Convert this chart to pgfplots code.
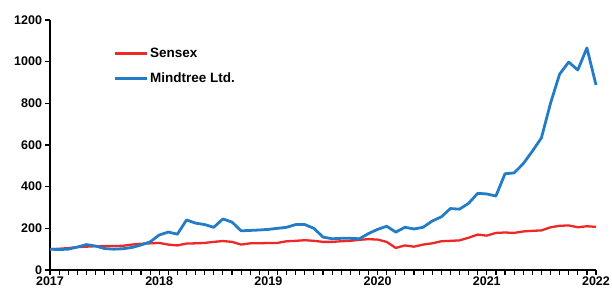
\documentclass[border=0pt]{standalone}
\usepackage{pgfplots}
\pgfplotsset{compat=1.18}
\usepackage{fontspec}
\setmainfont{Liberation Sans}
\definecolor{sred}{RGB}{238,40,38}
\definecolor{mblue}{RGB}{34,124,200}
\begin{document}
\begin{tikzpicture}
\begin{axis}[
  scale only axis,
  width=546bp, height=250bp,
  xmin=0, xmax=60, ymin=0, ymax=1200,
  axis x line*=bottom, axis y line*=left,
  axis line style={black, line width=1.4pt, -},
  xtick={0,12,24,36,48,60},
  xticklabels={2017,2018,2019,2020,2021,2022},
  minor x tick num=11,
  ytick={0,200,400,600,800,1000,1200},
  tick align=outside,
  major tick length=4.5bp, minor tick length=4.5bp,
  tick style={black, line width=1.2pt},
  /pgf/number format/assume math mode=true,
  /pgf/number format/1000 sep={},
  tick label style={font=\bfseries\fontsize{12.5bp}{14bp}\selectfont},
  xticklabel style={yshift=1bp},
  legend style={draw=none, fill=none, at={(0.11,0.905)}, anchor=north west,
    font=\bfseries\fontsize{13.5bp}{15bp}\selectfont, row sep=10bp},
  legend cell align=left,
  legend image code/.code={\draw[#1] (0bp,0bp) -- (32bp,0bp);},
  clip=false,
]
\coordinate (O) at (rel axis cs:0,0);
\addplot[sred, line width=2.3pt, line join=round] coordinates {
(0,100)(1,102)(2,105)(3,110)(4,112)(5,114)(6,115)(7,115)(8,116)(9,122)
(10,126)(11,128)(12,130)(13,122)(14,118)(15,127)(16,128)(17,130)(18,135)(19,139)
(20,135)(21,122)(22,128)(23,128)(24,130)(25,130)(26,138)(27,140)(28,143)(29,140)
(30,135)(31,135)(32,138)(33,140)(34,145)(35,148)(36,146)(37,135)(38,106)(39,118)
(40,112)(41,122)(42,128)(43,138)(44,140)(45,142)(46,155)(47,170)(48,165)(49,178)
(50,180)(51,178)(52,185)(53,188)(54,190)(55,205)(56,212)(57,214)(58,205)(59,210)
(60,207)};
\addlegendentry{Sensex}
\addplot[mblue, line width=2.8pt, line join=round] coordinates {
(0,100)(1,98)(2,100)(3,110)(4,122)(5,115)(6,103)(7,100)(8,102)(9,108)
(10,120)(11,135)(12,168)(13,182)(14,172)(15,240)(16,225)(17,218)(18,205)(19,245)
(20,230)(21,188)(22,190)(23,192)(24,195)(25,200)(26,205)(27,218)(28,218)(29,200)
(30,158)(31,150)(32,152)(33,152)(34,150)(35,175)(36,195)(37,210)(38,182)(39,205)
(40,197)(41,205)(42,235)(43,255)(44,295)(45,292)(46,320)(47,368)(48,365)(49,355)
(50,462)(51,466)(52,510)(53,570)(54,634)(55,800)(56,940)(57,998)(58,960)(59,1066)
(60,888)};
\addlegendentry{Mindtree Ltd.}
\end{axis}
\pgfresetboundingbox
\path (O) ++(-50bp,-24bp) rectangle ++(612bp,294bp);
\end{tikzpicture}
\end{document}
